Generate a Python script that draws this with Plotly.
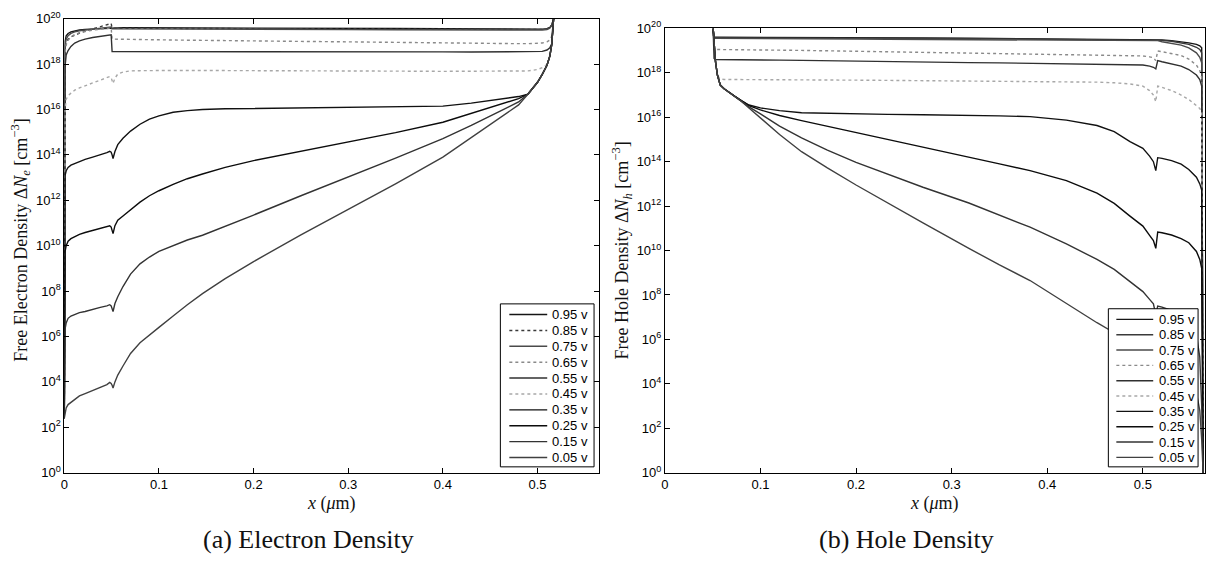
import numpy as np
import plotly.graph_objects as go

W, H = 1217, 567

VOLTAGES = ["0.95 v", "0.85 v", "0.75 v", "0.65 v", "0.55 v",
            "0.45 v", "0.35 v", "0.25 v", "0.15 v", "0.05 v"]

# grey tones of the scanned MATLAB line colours (b g r c m y k b g r)
LINE_COLORS = ["#151515", "#3a3a3a", "#4a4a4a", "#8a8a8a", "#303030",
               "#a8a8a8", "#111111", "#0c0c0c", "#333333", "#404040"]
DASH_E = ["solid", "dot", "solid", "dot", "solid",
          "dot", "solid", "solid", "solid", "solid"]
DASH_H = ["solid", "solid", "solid", "dot", "solid",
          "dot", "solid", "solid", "solid", "solid"]

# ---------------- electron density, panel (a) ----------------
X_ELECTRON = [0, 0.0008, 0.002, 0.004, 0.007,
              0.011, 0.016, 0.022, 0.03, 0.038,
              0.045, 0.048, 0.0495, 0.0505, 0.0515,
              0.0535, 0.0565, 0.062, 0.07, 0.08,
              0.09, 0.1, 0.115, 0.13, 0.146,
              0.17, 0.2, 0.25, 0.3, 0.35,
              0.4, 0.43, 0.46, 0.48, 0.49,
              0.5, 0.505, 0.51, 0.513, 0.515,
              0.517]

# log10(ΔN_e / cm^-3)
LOG_NE_095 = [2.4, 19.0, 19.25, 19.35, 19.42,
              19.47, 19.5, 19.53, 19.55, 19.57,
              19.58, 19.59, 19.6, 19.6, 19.6,
              19.6, 19.6, 19.6, 19.6, 19.6,
              19.6, 19.6, 19.6, 19.6, 19.6,
              19.6, 19.6, 19.59, 19.58, 19.57,
              19.56, 19.55, 19.55, 19.54, 19.54,
              19.54, 19.54, 19.56, 19.62, 19.72,
              20.0]
LOG_NE_085 = [2.4, 18.7, 18.95, 19.1, 19.2,
              19.28, 19.36, 19.45, 19.55, 19.65,
              19.74, 19.78, 19.79, 19.58, 19.58,
              19.58, 19.58, 19.58, 19.58, 19.58,
              19.58, 19.58, 19.58, 19.57, 19.57,
              19.57, 19.57, 19.56, 19.55, 19.54,
              19.53, 19.52, 19.52, 19.52, 19.52,
              19.52, 19.53, 19.55, 19.61, 19.71,
              20.0]
LOG_NE_075 = [2.4, 18.8, 19.1, 19.25, 19.35,
              19.42, 19.47, 19.5, 19.53, 19.56,
              19.6, 19.62, 19.63, 19.55, 19.55,
              19.55, 19.55, 19.55, 19.55, 19.55,
              19.55, 19.55, 19.55, 19.55, 19.55,
              19.55, 19.54, 19.53, 19.52, 19.51,
              19.5, 19.5, 19.5, 19.5, 19.5,
              19.5, 19.5, 19.52, 19.58, 19.7,
              20.0]
LOG_NE_065 = [2.4, 18.5, 18.85, 19.05, 19.2,
              19.3, 19.38, 19.44, 19.5, 19.54,
              19.57, 19.58, 19.59, 19.12, 19.1,
              19.1, 19.1, 19.1, 19.1, 19.09,
              19.08, 19.07, 19.06, 19.05, 19.04,
              19.03, 19.02, 19.0, 18.98, 18.95,
              18.93, 18.92, 18.91, 18.9, 18.9,
              18.91, 18.93, 18.98, 19.06, 19.22,
              20.0]
LOG_NE_055 = [2.4, 17.9, 18.4, 18.6, 18.78,
              18.93, 19.02, 19.1, 19.17, 19.23,
              19.27, 19.29, 19.29, 18.55, 18.55,
              18.56, 18.57, 18.57, 18.57, 18.57,
              18.57, 18.57, 18.57, 18.57, 18.57,
              18.57, 18.56, 18.56, 18.55, 18.55,
              18.54, 18.53, 18.53, 18.53, 18.53,
              18.54, 18.56, 18.62, 18.72, 18.9,
              20.0]
LOG_NE_045 = [2.4, 16.0, 16.45, 16.6, 16.72,
              16.85, 16.95, 17.05, 17.18, 17.3,
              17.42, 17.45, 17.4, 17.3, 17.15,
              17.38, 17.56, 17.65, 17.7, 17.71,
              17.72, 17.72, 17.72, 17.72, 17.72,
              17.71, 17.71, 17.7, 17.7, 17.69,
              17.68, 17.68, 17.68, 17.68, 17.7,
              17.76, 17.84, 17.98, 18.35, 18.86,
              20.0]
LOG_NE_035 = [2.4, 13.09, 13.3, 13.45, 13.55,
              13.62, 13.7, 13.8, 13.9, 14.0,
              14.1, 14.16, 14.12, 14.0, 13.84,
              14.15, 14.45, 14.73, 15.05, 15.35,
              15.58, 15.72, 15.88, 15.95, 16.0,
              16.03, 16.05, 16.08, 16.1, 16.12,
              16.15, 16.28, 16.45, 16.57, 16.68,
              17.2, 17.55, 17.95, 18.35, 18.86,
              20.0]
LOG_NE_025 = [2.4, 9.74, 10.0, 10.2, 10.31,
              10.4, 10.5, 10.58, 10.68, 10.77,
              10.85, 10.88, 10.82, 10.7, 10.53,
              10.88, 11.12, 11.31, 11.6, 11.92,
              12.2, 12.42, 12.7, 12.95, 13.16,
              13.45, 13.75, 14.15, 14.55, 14.98,
              15.44, 15.82, 16.2, 16.48, 16.68,
              17.2, 17.55, 17.95, 18.35, 18.86,
              20.0]
LOG_NE_015 = [2.4, 6.32, 6.6, 6.8, 6.9,
              6.98, 7.05, 7.1, 7.2, 7.28,
              7.35, 7.4, 7.35, 7.25, 7.1,
              7.45, 7.75, 8.2, 8.75, 9.2,
              9.5, 9.75, 10.0, 10.25, 10.46,
              10.85, 11.35, 12.2, 13.02, 13.86,
              14.72, 15.3, 15.92, 16.33, 16.68,
              17.2, 17.55, 17.95, 18.35, 18.86,
              20.0]
LOG_NE_005 = [2.4, 2.62, 2.85, 3.0, 3.1,
              3.25, 3.38, 3.48, 3.62, 3.75,
              3.88, 3.98, 3.93, 3.85, 3.73,
              4.0, 4.3, 4.7, 5.25, 5.72,
              6.08, 6.4, 6.9, 7.4, 7.89,
              8.55, 9.3, 10.48, 11.6, 12.72,
              13.9, 14.75, 15.6, 16.2, 16.68,
              17.2, 17.55, 17.95, 18.35, 18.86,
              20.0]

# ---------------- hole density, panel (b) ----------------
X_HOLE = [0.0505, 0.0515, 0.053, 0.055, 0.058,
          0.062, 0.067, 0.073, 0.08, 0.088,
          0.1, 0.12, 0.143, 0.17, 0.2,
          0.233, 0.27, 0.318, 0.35, 0.382,
          0.42, 0.452, 0.47, 0.4865, 0.5,
          0.507, 0.511, 0.5135, 0.5155, 0.52,
          0.53, 0.54, 0.548, 0.556, 0.5595,
          0.5615, 0.563]

# log10(ΔN_h / cm^-3)
LOG_NH_095 = [20.0, 19.6, 19.6, 19.6, 19.6,
              19.6, 19.6, 19.6, 19.6, 19.6,
              19.6, 19.6, 19.6, 19.6, 19.59,
              19.58, 19.57, 19.56, 19.55, 19.54,
              19.53, 19.52, 19.52, 19.52, 19.51,
              19.51, 19.5, 19.5, 19.5, 19.48,
              19.45, 19.4, 19.35, 19.28, 19.22,
              19.13, 0.0]
LOG_NH_085 = [20.0, 19.58, 19.58, 19.58, 19.58,
              19.58, 19.58, 19.58, 19.58, 19.58,
              19.58, 19.58, 19.58, 19.57, 19.57,
              19.56, 19.55, 19.54, 19.53, 19.52,
              19.51, 19.5, 19.5, 19.5, 19.49,
              19.49, 19.48, 19.48, 19.48, 19.46,
              19.42, 19.35, 19.28, 19.15, 19.05,
              18.9, 0.0]
LOG_NH_075 = [20.0, 19.55, 19.55, 19.55, 19.55,
              19.55, 19.55, 19.55, 19.55, 19.55,
              19.55, 19.54, 19.54, 19.53, 19.52,
              19.51, 19.5, 19.49, 19.48, 19.47,
              19.46, 19.46, 19.45, 19.45, 19.45,
              19.45, 19.45, 19.44, 19.45, 19.4,
              19.33, 19.25, 19.12, 18.9, 18.7,
              18.45, 0.0]
LOG_NH_065 = [20.0, 19.06, 19.05, 19.05, 19.05,
              19.05, 19.05, 19.04, 19.04, 19.03,
              19.03, 19.02, 19.01, 18.99, 18.97,
              18.95, 18.92, 18.89, 18.86, 18.84,
              18.82, 18.8, 18.79, 18.78, 18.76,
              18.72, 18.68, 18.55, 18.98, 18.95,
              18.88, 18.78, 18.62, 18.35, 18.1,
              17.8, 0.0]
LOG_NH_055 = [20.0, 18.65, 18.6, 18.6, 18.6,
              18.6, 18.6, 18.59, 18.59, 18.58,
              18.58, 18.57, 18.56, 18.54, 18.52,
              18.5, 18.48, 18.46, 18.45, 18.43,
              18.42, 18.4, 18.39, 18.38, 18.35,
              18.3, 18.25, 18.18, 18.55, 18.5,
              18.4, 18.3, 18.15, 17.9, 17.7,
              17.4, 0.0]
LOG_NH_045 = [20.0, 19.2, 18.5, 17.88, 17.72,
              17.7, 17.7, 17.7, 17.7, 17.7,
              17.7, 17.69, 17.69, 17.68, 17.67,
              17.66, 17.65, 17.63, 17.62, 17.6,
              17.6, 17.58, 17.55, 17.5, 17.4,
              17.2, 17.0, 16.7, 17.4, 17.35,
              17.2, 17.0, 16.8, 16.55, 16.4,
              16.2, 0.0]
LOG_NH_035 = [20.0, 19.2, 18.5, 17.9, 17.45,
              17.28, 17.12, 16.95, 16.75, 16.55,
              16.42, 16.3, 16.2, 16.17, 16.15,
              16.13, 16.11, 16.09, 16.06, 16.03,
              15.87, 15.63, 15.35, 14.9, 14.6,
              14.25, 14.0, 13.6, 14.18, 14.15,
              14.05, 13.89, 13.65, 13.3, 13.0,
              12.72, 0.0]
LOG_NH_025 = [20.0, 19.2, 18.5, 17.9, 17.45,
              17.28, 17.12, 16.95, 16.75, 16.52,
              16.33, 16.08, 15.85, 15.6, 15.3,
              15.0, 14.65, 14.2, 13.9, 13.6,
              13.15, 12.58, 12.12, 11.55, 11.1,
              10.68, 10.45, 10.1, 10.83, 10.8,
              10.7, 10.54, 10.35, 9.96, 9.6,
              9.2, 0.0]
LOG_NH_015 = [20.0, 19.2, 18.5, 17.9, 17.45,
              17.28, 17.12, 16.95, 16.74, 16.47,
              16.15, 15.6, 15.07, 14.52, 13.97,
              13.45, 12.85, 12.14, 11.6, 11.05,
              10.3, 9.6, 9.15, 8.6, 8.15,
              7.8, 7.6, 7.1, 7.5, 7.45,
              7.3, 7.1, 6.8, 6.2, 5.2,
              3.0, 0.0]
LOG_NH_005 = [20.0, 19.2, 18.5, 17.9, 17.45,
              17.28, 17.12, 16.95, 16.72, 16.42,
              15.98, 15.22, 14.45, 13.72, 12.95,
              12.14, 11.25, 10.1, 9.35, 8.65,
              7.6, 6.75, 6.3, 5.8, 5.4,
              5.2, 5.0, 4.6, 4.9, 4.85,
              4.7, 4.5, 4.2, 3.6, 2.8,
              1.5, 0.0]

ELECTRON_LOG = [LOG_NE_095, LOG_NE_085, LOG_NE_075, LOG_NE_065, LOG_NE_055,
                LOG_NE_045, LOG_NE_035, LOG_NE_025, LOG_NE_015, LOG_NE_005]
HOLE_LOG = [LOG_NH_095, LOG_NH_085, LOG_NH_075, LOG_NH_065, LOG_NH_055,
            LOG_NH_045, LOG_NH_035, LOG_NH_025, LOG_NH_015, LOG_NH_005]

X_TICKS = [0, 0.1, 0.2, 0.3, 0.4, 0.5]
X_TICK_TEXT = ["0", "0.1", "0.2", "0.3", "0.4", "0.5"]
Y_EXPONENTS = list(range(0, 21, 2))

fig = go.Figure()

for i, v in enumerate(VOLTAGES):
    fig.add_trace(go.Scatter(
        x=X_ELECTRON, y=10.0 ** np.array(ELECTRON_LOG[i]),
        xaxis="x", yaxis="y", mode="lines", name=v, showlegend=False,
        line=dict(color=LINE_COLORS[i], width=1.4, dash=DASH_E[i])))
for i, v in enumerate(VOLTAGES):
    fig.add_trace(go.Scatter(
        x=X_HOLE, y=10.0 ** np.array(HOLE_LOG[i]),
        xaxis="x2", yaxis="y2", mode="lines", name=v, showlegend=False,
        line=dict(color=LINE_COLORS[i], width=1.4, dash=DASH_H[i])))

TICK_FONT = dict(family="Liberation Sans, Arial, sans-serif", size=13, color="black")
SERIF = "Liberation Serif, Times New Roman, serif"


def px(x):
    return x / W


def py(y):
    return 1 - y / H


def x_axis(domain, anchor):
    return dict(domain=domain, anchor=anchor, range=[0, 0.565],
                tickvals=X_TICKS, ticktext=X_TICK_TEXT, ticks="inside",
                ticklen=5, tickcolor="black", showline=True, linecolor="black",
                linewidth=1, mirror="ticks", showgrid=False, zeroline=False,
                tickfont=TICK_FONT)


def y_axis(domain, anchor):
    return dict(domain=domain, anchor=anchor, type="log", range=[0, 20],
                tickvals=[10.0 ** e for e in Y_EXPONENTS],
                ticktext=["10<sup>%d</sup>" % e for e in Y_EXPONENTS],
                ticks="inside", ticklen=5, tickcolor="black", showline=True,
                linecolor="black", linewidth=1, mirror="ticks", showgrid=False,
                zeroline=False, tickfont=TICK_FONT)


fig.update_layout(
    width=W, height=H, autosize=False,
    margin=dict(l=0, r=0, t=0, b=0),
    paper_bgcolor="white", plot_bgcolor="white",
    showlegend=False,
    xaxis=x_axis([px(60.5), px(597)], "y"),
    yaxis=y_axis([py(478), py(10)], "x"),
    xaxis2=x_axis([px(663), px(1205)], "y2"),
    yaxis2=y_axis([py(478), py(20)], "x2"),
)

shapes = []
annotations = []


def add_legend(box, line_x, text_x, first_y, step, dashes):
    x0, x1, y0, y1 = box
    shapes.append(dict(type="rect", xref="paper", yref="paper",
                       x0=px(x0), x1=px(x1), y0=py(y1), y1=py(y0),
                       line=dict(color="black", width=1),
                       fillcolor="white", layer="above"))
    for i, v in enumerate(VOLTAGES):
        yy = first_y + i * step
        shapes.append(dict(type="line", xref="paper", yref="paper",
                           x0=px(line_x[0]), x1=px(line_x[1]),
                           y0=py(yy), y1=py(yy), layer="above",
                           line=dict(color=LINE_COLORS[i], width=1.4,
                                     dash=dashes[i])))
        annotations.append(dict(xref="paper", yref="paper", x=px(text_x),
                                y=py(yy), text=v, showarrow=False,
                                xanchor="left", yanchor="middle",
                                font=dict(family=TICK_FONT["family"],
                                          size=13, color="black")))


add_legend((498, 592, 304, 472), (507, 545), 548, 315, 16.37, DASH_E)
add_legend((1108, 1198, 309, 472), (1116, 1153), 1157, 320, 15.8, DASH_H)


def label(text, x, y, size, angle=0):
    annotations.append(dict(xref="paper", yref="paper", x=px(x), y=py(y),
                            text=text, showarrow=False, textangle=angle,
                            xanchor="center", yanchor="middle",
                            font=dict(family=SERIF, size=size, color="#111")))


label("Free Electron Density Δ<i>N<sub>e</sub></i> [cm<sup>−3</sup>]", 17, 238, 18, -90)
label("Free Hole Density Δ<i>N<sub>h</sub></i> [cm<sup>−3</sup>]", 620, 249, 18, -90)
label("<i>x</i> (<i>μ</i>m)", 329, 510, 18)
label("<i>x</i> (<i>μ</i>m)", 934, 510, 18)
label("(a) Electron Density", 306, 547, 26)
label("(b) Hole Density", 905, 547, 26)

fig.update_layout(shapes=shapes, annotations=annotations)

fig.write_html("out.html")
